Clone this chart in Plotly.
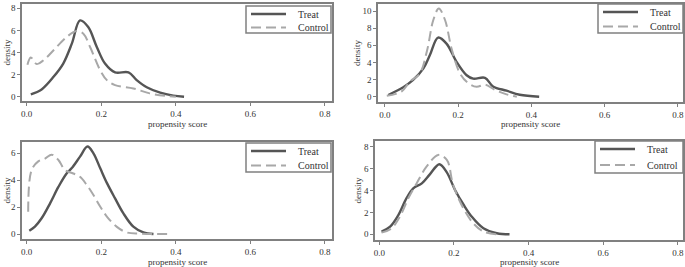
import plotly.graph_objects as go

# ---- data ----
p1_treat_x = [0.011, 0.04, 0.072, 0.098, 0.121, 0.143, 0.165, 0.188, 0.21, 0.237, 0.273, 0.295, 0.322, 0.358, 0.393, 0.422]
p1_treat_y = [0.21, 0.66, 1.8, 3.0, 4.8, 6.9, 6.3, 4.5, 3.0, 2.2, 2.2, 1.5, 0.85, 0.36, 0.1, 0.0]
p1_ctrl_x = [0.002, 0.011, 0.027, 0.045, 0.072, 0.107, 0.134, 0.152, 0.17, 0.197, 0.215, 0.237, 0.286, 0.33, 0.375, 0.40]
p1_ctrl_y = [2.9, 3.55, 2.95, 3.3, 4.2, 5.4, 5.95, 5.7, 4.5, 2.4, 1.5, 1.05, 0.75, 0.3, 0.06, 0.0]

p2_treat_x = [0.009, 0.05, 0.077, 0.105, 0.123, 0.145, 0.168, 0.195, 0.223, 0.241, 0.273, 0.295, 0.332, 0.368, 0.421]
p2_treat_y = [0.2, 1.1, 1.95, 3.3, 4.9, 6.9, 6.2, 4.1, 2.5, 2.1, 2.2, 1.2, 0.7, 0.23, 0.0]
p2_ctrl_x = [0.005, 0.045, 0.068, 0.095, 0.115, 0.132, 0.147, 0.164, 0.182, 0.205, 0.227, 0.25, 0.273, 0.30, 0.332, 0.36]
p2_ctrl_y = [0.1, 0.6, 1.75, 2.7, 5.4, 8.95, 10.3, 8.95, 5.6, 2.7, 1.6, 1.15, 1.4, 0.8, 0.27, 0.0]

p3_treat_x = [0.007, 0.022, 0.04, 0.063, 0.085, 0.107, 0.121, 0.143, 0.163, 0.179, 0.197, 0.215, 0.237, 0.259, 0.286, 0.313, 0.34]
p3_treat_y = [0.25, 0.55, 1.17, 2.3, 3.5, 4.5, 4.9, 5.75, 6.5, 6.0, 4.9, 3.8, 2.65, 1.55, 0.55, 0.12, 0.0]
p3_ctrl_x = [0.004, 0.013, 0.031, 0.049, 0.067, 0.085, 0.103, 0.125, 0.143, 0.161, 0.179, 0.197, 0.215, 0.241, 0.268, 0.304, 0.384]
p3_ctrl_y = [1.65, 4.75, 5.4, 5.6, 5.9, 5.5, 4.75, 4.5, 4.25, 3.65, 2.9, 2.05, 1.3, 0.55, 0.12, 0.03, 0.0]

p4_treat_x = [0.006, 0.029, 0.051, 0.073, 0.091, 0.114, 0.136, 0.161, 0.181, 0.203, 0.226, 0.248, 0.279, 0.315, 0.349]
p4_treat_y = [0.25, 0.7, 1.75, 3.3, 4.2, 4.65, 5.5, 6.4, 5.65, 4.05, 2.7, 1.6, 0.55, 0.1, 0.0]
p4_ctrl_x = [0.006, 0.033, 0.055, 0.078, 0.10, 0.127, 0.158, 0.181, 0.198, 0.225, 0.252, 0.279, 0.315]
p4_ctrl_y = [0.15, 0.55, 1.6, 3.3, 4.65, 6.2, 7.25, 6.8, 4.5, 2.4, 1.0, 0.25, 0.0]

x_ticks = [0.0, 0.2, 0.4, 0.6, 0.8]
x_ticklabels = ["0.0", "0.2", "0.4", "0.6", "0.8"]
y_ticks = [[0, 2, 4, 6, 8], [0, 2, 4, 6, 8, 10], [0, 2, 4, 6], [0, 2, 4, 6, 8]]
series_names = ["Treat", "Control"]
x_title = "propensity score"
y_title = "density"

panels = [
    (p1_treat_x, p1_treat_y, p1_ctrl_x, p1_ctrl_y),
    (p2_treat_x, p2_treat_y, p2_ctrl_x, p2_ctrl_y),
    (p3_treat_x, p3_treat_y, p3_ctrl_x, p3_ctrl_y),
    (p4_treat_x, p4_treat_y, p4_ctrl_x, p4_ctrl_y),
]

# ---- layout geometry (pixels) ----
W, H = 685, 267
xdoms = [[22 / W, 332 / W], [378 / W, 683 / W], [22 / W, 332 / W], [375 / W, 683 / W]]
ydoms = [[1 - 101 / H, 1 - 4 / H], [1 - 102 / H, 1 - 4 / H], [1 - 239 / H, 1 - 142 / H], [1 - 240 / H, 1 - 141 / H]]
xranges = [[-0.0126, 0.8188], [-0.019, 0.8137], [-0.0126, 0.8188], [-0.0115, 0.814]]
yranges = [[-0.39, 8.39], [-0.62, 10.82], [-0.37, 6.84], [-0.52, 8.52]]
# legend boxes: x0, y0, x1, y1 in px from top-left
legboxes = [(246, 6, 331, 33), (598, 4, 683, 33), (246, 143, 331, 172), (595, 141, 683, 173)]
xtitle_y = [124, 124, 261.5, 261.5]
ytitle_x = [6, 357, 6, 357]

treat_color = "#555555"
ctrl_color = "#a8a8a8"
frame_color = "#808080"
text_color = "#333333"
font = dict(family="Liberation Serif, Times New Roman, serif", size=9, color=text_color)
treat_dash = "solid"
ctrl_dash = "10px,5px"

fig = go.Figure()
layout = dict(
    width=W, height=H, margin=dict(l=0, r=0, t=0, b=0, autoexpand=False),
    plot_bgcolor="white", paper_bgcolor="white", font=font, showlegend=False,
)
shapes = []
annotations = []


def px(x):
    return x / W


def py(y):
    return 1 - y / H


for i, (tx, ty, cx, cy) in enumerate(panels):
    n = "" if i == 0 else str(i + 1)
    fig.add_trace(go.Scatter(x=tx, y=ty, mode="lines", name=series_names[0], line_shape="spline",
                             line=dict(color=treat_color, width=2.4, dash=treat_dash),
                             xaxis="x" + n, yaxis="y" + n))
    fig.add_trace(go.Scatter(x=cx, y=cy, mode="lines", name=series_names[1], line_shape="spline",
                             line=dict(color=ctrl_color, width=2, dash=ctrl_dash),
                             xaxis="x" + n, yaxis="y" + n))
    layout["xaxis" + n] = dict(
        domain=xdoms[i], range=xranges[i], anchor="y" + n, automargin=False,
        tickvals=x_ticks, ticktext=x_ticklabels, ticks="outside", ticklen=3, tickcolor=frame_color,
        showline=True, mirror=True, linecolor=frame_color, linewidth=1.5,
        showgrid=False, zeroline=False, tickfont=dict(size=9),
    )
    layout["yaxis" + n] = dict(
        domain=ydoms[i], range=yranges[i], anchor="x" + n, automargin=False,
        tickvals=y_ticks[i], ticks="outside", ticklen=3, tickcolor=frame_color,
        showline=True, mirror=True, linecolor=frame_color, linewidth=1.5,
        showgrid=False, zeroline=False, tickfont=dict(size=9),
    )
    # axis titles
    annotations.append(dict(xref="paper", yref="paper", x=sum(xdoms[i]) / 2, y=py(xtitle_y[i]),
                            text=x_title, showarrow=False, xanchor="center", yanchor="middle",
                            font=dict(size=9, color=text_color)))
    annotations.append(dict(xref="paper", yref="paper", x=px(ytitle_x[i]), y=sum(ydoms[i]) / 2,
                            text=y_title, showarrow=False, xanchor="center", yanchor="middle", textangle=-90,
                            font=dict(size=9, color=text_color)))
    # custom legend box
    x0, y0, x1, y1 = legboxes[i]
    shapes.append(dict(type="rect", xref="paper", yref="paper", x0=px(x0), x1=px(x1), y0=py(y1), y1=py(y0),
                       line=dict(color=frame_color, width=1.5), fillcolor="white", layer="above"))
    rows = [y0 + 8, y0 + 21.5 + (y1 - y0 - 27) * 0.5]
    for k, (nm, col, dsh, wd) in enumerate([(series_names[0], treat_color, treat_dash, 2.4),
                                            (series_names[1], ctrl_color, ctrl_dash, 2)]):
        shapes.append(dict(type="line", xref="paper", yref="paper", x0=px(x0 + 5), x1=px(x0 + 40),
                           y0=py(rows[k]), y1=py(rows[k]), line=dict(color=col, width=wd, dash=dsh), layer="above"))
        annotations.append(dict(xref="paper", yref="paper", x=px(x0 + 50), y=py(rows[k]), text=nm,
                                showarrow=False, xanchor="left", yanchor="middle",
                                font=dict(size=10, color=text_color)))

layout["shapes"] = shapes
layout["annotations"] = annotations
fig.update_layout(**layout)
fig.write_html("out.html", config={"displayModeBar": False},
               post_script="document.body.style.margin='0';")
